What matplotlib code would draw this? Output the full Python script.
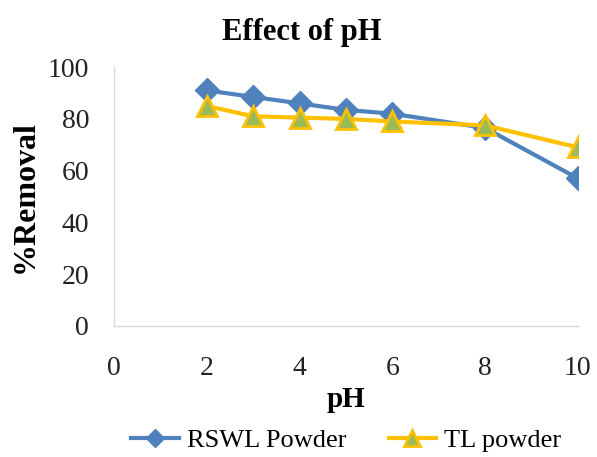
import matplotlib
matplotlib.use("Agg")
import matplotlib.pyplot as plt

ph = [2, 3, 4, 5, 6, 8, 10]
rswl = [91, 88.5, 86, 83.5, 82, 76.5, 57]
tl = [85, 81, 80.5, 80, 79, 77.5, 69]
series_names = ["RSWL Powder", "TL powder"]
xticks = [0, 2, 4, 6, 8, 10]
yticks = [0, 20, 40, 60, 80, 100]

plt.rcParams['font.family'] = ['Liberation Serif', 'DejaVu Serif']

fig = plt.figure(figsize=(5.97, 4.57), dpi=100)
ax = fig.add_axes([0.191, 0.287, 0.777, 0.566])

ax.plot(ph, rswl, color='#4F81BD', lw=3, marker='D', ms=12,
        mfc='#4F81BD', mec='#4F81BD', label=series_names[0], zorder=3)
ax.plot(ph, tl, color='#FFC000', lw=3, marker='^', ms=14,
        mfc='#9BBB59', mec='#FFC000', mew=2, label=series_names[1], zorder=4)

ax.set_xlim(0, 10)
ax.set_ylim(0, 100)
ax.set_xticks(xticks)
ax.set_yticks(yticks)
ax.tick_params(length=0, labelsize=20, colors='#222222')
ax.tick_params(axis='x', pad=22)
ax.tick_params(axis='y', pad=18)
for s in ['top', 'right']:
    ax.spines[s].set_visible(False)
for s in ['left', 'bottom']:
    ax.spines[s].set_color('#d9d9d9')
    ax.spines[s].set_linewidth(1)

ax.set_xlabel('pH', fontsize=21, fontweight='bold', labelpad=3)
ax.set_ylabel('%Removal', fontsize=23, fontweight='bold', labelpad=6)
fig.text(0.505, 0.928, 'Effect of pH', ha='center', va='center',
         fontsize=22, fontweight='bold')

fig.legend(loc='center', bbox_to_anchor=(0.58, 0.037), ncol=2, frameon=False,
           fontsize=19, handlelength=1.8, columnspacing=1.6, handletextpad=0.3,
           borderpad=0, markerscale=0.8)

fig.savefig('out.png', dpi=100)
